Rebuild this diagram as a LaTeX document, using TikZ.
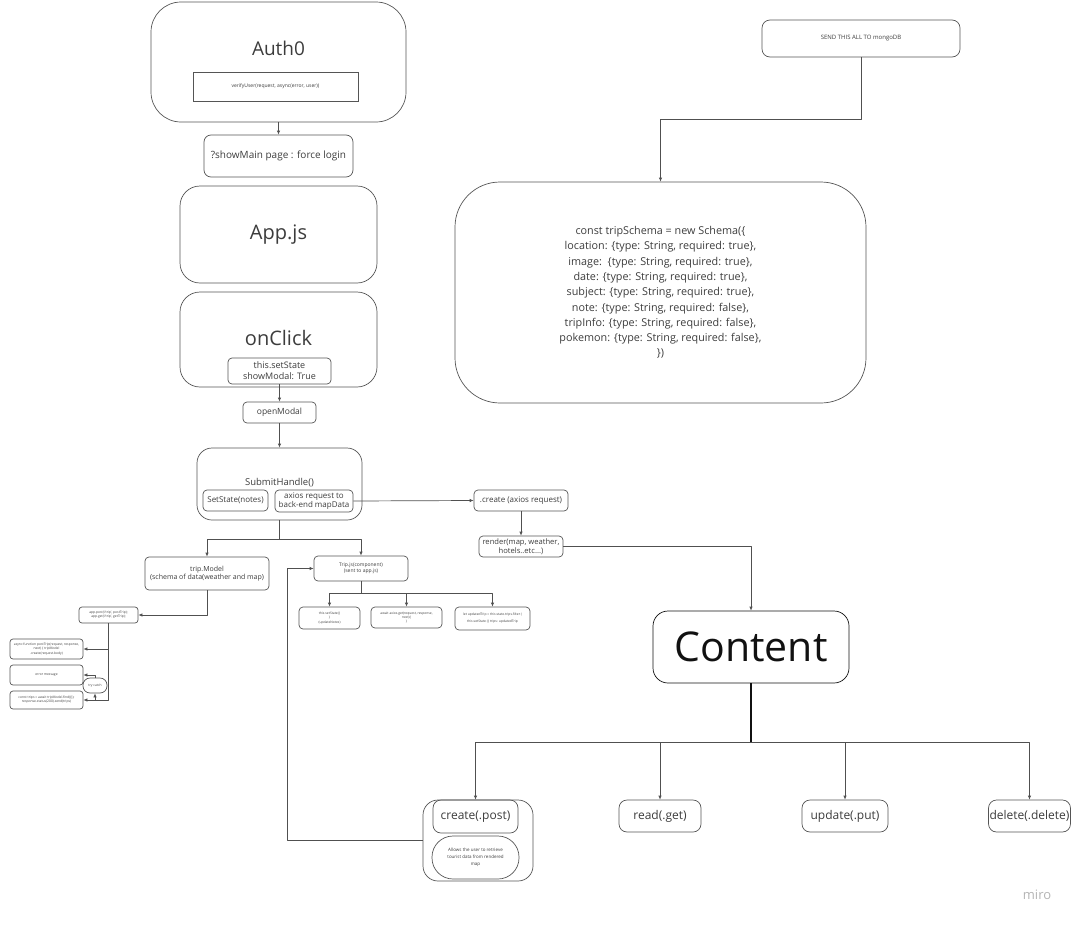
\documentclass[tikz,border=0pt]{standalone}
\usepackage{fontspec}
\setmainfont{Open Sans}
\usepackage{tikz}
\usetikzlibrary{arrows.meta, calc, positioning}
\usepackage{xcolor}
\definecolor{Edge}{HTML}{555555}
\definecolor{Wire}{HTML}{505050}
\definecolor{Ink}{HTML}{3C3C3C}
\definecolor{DarkInk}{HTML}{111111}
\definecolor{Watermark}{HTML}{B4B4B4}
\newcommand{\fsize}[2]{\fontsize{#1}{#2}\selectfont}
\tikzset{%
  frame/.style={%
    draw=Edge,%
    rectangle,%
    rounded corners=7pt,%
    line width=0.7pt,%
    text=Ink,%
    inner sep=1pt,%
    align=center%
  },
  big_frame/.style={%
    frame,%
    rounded corners=24pt%
  },
  sharp_frame/.style={%
    frame,%
    rounded corners=0pt%
  },
  size/.style 2 args={%
    minimum width=#1pt,%
    minimum height=#2pt%
  },
  caption/.style={%
    text=Ink,%
    inner sep=0pt,%
    align=center%
  },
  wire/.style={%
    color=Wire,%
    line join=round,%
    line width=0.7pt%
  },
  arrow/.style={-{Latex[length=4pt, width=3.5pt]}},
}

\begin{document}
\begin{tikzpicture}[x=1pt, y=-1pt]

    \useasboundingbox (0, 0) rectangle (1079, 926);

    % left column
    \node [big_frame, rounded corners=30pt, size={255}{120}] (Auth) at (278.5, 62) {};
    \node [caption, font={\fsize{19}{23}}] (AuthTitle) at (278.5, 48) {Auth0};
    \node [sharp_frame, size={165}{29}, font={\fsize{5}{6}}] (Verify) at (275.5, 86.5)
      {verifyUser(request, async(error, user))};
    \node [frame, size={149}{42}, font={\fsize{10}{12}}] (ShowMain) at (278.5, 156)
      {?showMain page : force login};
    \node [big_frame, rounded corners=20pt, size={197}{97}, font={\fsize{20}{24}}] (App) at (278.5, 234.5)
      {App.js};
    \node [big_frame, rounded corners=20pt, size={197}{95}] (Click) at (278.5, 339.5) {};
    \node [caption, font={\fsize{20}{24}}] (ClickTitle) at (278.5, 338) {onClick};
    \node [frame, rounded corners=4pt, size={103}{26}, font={\fsize{9}{11}}] (SetModal) at (279.5, 371)
      {this.setState\\showModal: True};
    \node [frame, rounded corners=4pt, size={73}{21}, font={\fsize{8.5}{10}}] (OpenModal) at (279.5, 412.5)
      {openModal};
    \node [big_frame, rounded corners=15pt, size={165}{72}] (Submit) at (279.5, 484) {};
    \node [caption, font={\fsize{9.5}{11}}] (SubmitTitle) at (279.5, 483) {SubmitHandle()};
    \node [frame, rounded corners=4pt, size={65}{21}, font={\fsize{8}{10}}] (SetNotes) at (235.5, 500.5)
      {SetState(notes)};
    \node [frame, rounded corners=4pt, size={78}{22}, font={\fsize{8}{9.5}}] (Axios) at (314, 501)
      {axios request to\\back-end mapData};

    % server side
    \node [frame, rounded corners=4pt, size={124}{33}, font={\fsize{7}{8.5}}] (TripModel) at (207, 573.5)
      {trip.Model\\(schema of data(weather and map)};
    \node [frame, rounded corners=3pt, size={59}{16}, font={\fsize{3.3}{4.2}}] (Routes) at (108.5, 615)
      {app.post('/trip', postTrip);\\app.get('/trip', getTrip);};
    \node [frame, rounded corners=3pt, size={73}{20}, font={\fsize{3.3}{4.2}}] (PostTrip) at (46.5, 649)
      {async function postTrip(request, response,\\next) \{ tripModel\\.create(request.body)};
    \node [frame, rounded corners=3pt, size={73}{20}, font={\fsize{3.3}{4.2}}] (ErrorMsg) at (46.5, 675)
      {error message};
    \node [frame, rounded corners=3pt, size={73}{18}, font={\fsize{3.3}{4.2}}] (FindTrip) at (46.5, 700)
      {const trips = await tripModel.find(\{\});\\response.status(200).send(trips)};
    \node [frame, rounded corners=7pt, size={24}{15}, font={\fsize{3.3}{4.2}}] (TryCatch) at (95, 685.5)
      {try catch};

    % client side
    \node [frame, rounded corners=4pt, size={94}{25}, font={\fsize{5}{6.5}}] (TripJs) at (361, 568.5)
      {Trip.js(component)\\(sent to app.js)};
    \node [frame, rounded corners=4pt, size={61}{22}, font={\fsize{3.3}{4.2}}] (StateNotes) at (329.5, 618)
      {this.setState(\{\\\}\\(updateNotes)};
    \node [frame, rounded corners=4pt, size={71}{21}, font={\fsize{3.3}{4.2}}] (GetTrip) at (406.5, 617.5)
      {await axios.get(request, response,\\next)\{\\\}};
    \node [frame, rounded corners=4pt, size={75}{23}, font={\fsize{3.3}{4.2}}] (Filter) at (492.5, 618.5)
      {let updatedTrip = this.state.trips.filter (\\[3pt]this.setState (\{ trips: updatedTrip};

    \node [frame, rounded corners=4pt, size={94}{21}, font={\fsize{8}{10}}] (Create) at (521, 500.5)
      {.create (axios request)};
    \node [frame, rounded corners=4pt, size={84}{21}, font={\fsize{7.6}{9}}] (Render) at (521, 546.5)
      {render(map, weather,\\hotels..etc...)};

    % database
    \node [frame, rounded corners=8pt, size={198}{37}, font={\fsize{6}{7}}] (Send) at (861, 38.5)
      {SEND THIS ALL TO mongoDB};
    \node [big_frame, rounded corners=45pt, size={411}{221}, font={\fsize{10.8}{15.3}}] (Schema) at (660.5, 292.5)
      {const tripSchema = new Schema(\{\\
       location: \{type: String, required: true\},\\
       image:\ \ \{type: String, required: true\},\\
       date: \{type: String, required: true\},\\
       subject: \{type: String, required: true\},\\
       note: \{type: String, required: false\},\\
       tripInfo: \{type: String, required: false\},\\
       pokemon: \{type: String, required: false\},\\
       \})};

    % content and crud
    \node [big_frame, draw=DarkInk, rounded corners=15pt, size={196}{72}, text=DarkInk, font={\fsize{41}{44}}] (Content) at (751, 647)
      {Content};
    \node [big_frame, rounded corners=15pt, size={110}{81}] (CreateGroup) at (478, 840.5) {};
    \node [frame, rounded corners=8pt, size={85}{33}, font={\fsize{12}{14}}] (Post) at (475.5, 816.5)
      {create(.post)};
    \node [frame, rounded corners=21pt, size={87}{43}, font={\fsize{4.5}{7}}] (Allows) at (475.5, 857.5)
      {Allows the user to retrieve\\tourist data from rendered\\map};
    \node [frame, rounded corners=8pt, size={82}{32}, font={\fsize{12}{14}}] (Read) at (660, 816)
      {read(.get)};
    \node [frame, rounded corners=8pt, size={86}{32}, font={\fsize{12}{14}}] (Update) at (845, 816)
      {update(.put)};
    \node [frame, rounded corners=8pt, size={81}{32}, font={\fsize{12}{14}}] (Delete) at (1029.5, 816)
      {delete(.delete)};

    \node [text=Watermark, font={\fsize{13}{15}}] (Miro) at (1037, 895) {miro};

    \draw [arrow, wire]
      (Auth.south)
      --
      (ShowMain.north);
    \draw [arrow, wire]
      (SetModal.south)
      --
      (OpenModal.north);
    \draw [arrow, wire]
      (OpenModal.south)
      --
      (Submit.north);
    \draw [arrow, wire]
      (Axios.east)
      --
      (Create.west);
    \draw [arrow, wire]
      (Create.south)
      --
      (Render.north);
    \draw [arrow, wire]
      (Render.east)
      -|
      (Content.north);
    \draw [arrow, wire]
      (Send.south)
      --
      ++(0, 62)
      -|
      (Schema.north);

    \draw [arrow, wire]
      (Submit.south)
      --
      ++(0, 19)
      -|
      (TripModel.north);
    \draw [arrow, wire]
      (Submit.south)
      --
      ++(0, 19)
      -|
      (TripJs.north);

    \draw [arrow, wire]
      (TripModel.south)
      |-
      (Routes.east);
    \draw [arrow, wire]
      (Routes.south)
      |-
      (PostTrip.east);
    \draw [arrow, wire]
      (Routes.south)
      |-
      (FindTrip.east);
    \draw [arrow, wire]
      (TryCatch.south |- FindTrip.east)
      --
      (TryCatch.south);
    \draw [arrow, wire]
      (TryCatch.north)
      |-
      (ErrorMsg.east);

    \draw [arrow, wire]
      (TripJs.south)
      --
      ++(0, 12)
      -|
      (StateNotes.north);
    \draw [arrow, wire]
      (TripJs.south)
      --
      ++(0, 12)
      -|
      (GetTrip.north);
    \draw [arrow, wire]
      (TripJs.south)
      --
      ++(0, 12)
      -|
      (Filter.north);

    \draw [wire, color=DarkInk, line width=1.1pt]
      (Content.south)
      --
      ++(0, 59);
    \draw [arrow, wire]
      (Content.south)
      ++(0, 59)
      -|
      (Post.north);
    \draw [arrow, wire]
      (Content.south)
      ++(0, 59)
      -|
      (Read.north);
    \draw [arrow, wire]
      (Content.south)
      ++(0, 59)
      -|
      (Update.north);
    \draw [arrow, wire]
      (Content.south)
      ++(0, 59)
      -|
      (Delete.north);

    \draw [arrow, wire]
      (CreateGroup.west)
      --
      ++(-135, 0)
      |-
      (TripJs.west);

  \end{tikzpicture}
\end{document}
